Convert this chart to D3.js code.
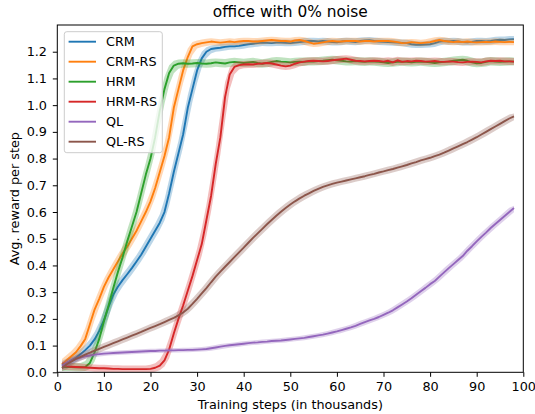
<!DOCTYPE html>
<html>
<head>
<meta charset="utf-8">
<script src="https://cdn.jsdelivr.net/npm/d3@7"></script>
<style>
  html, body { margin: 0; padding: 0; background: #fff; }
  svg { display: block; font-family: "DejaVu Sans", sans-serif; }
</style>
</head>
<body>
<svg id="chart" width="535" height="414"></svg>
<script>
// Training steps (thousands) at which each run was evaluated
const steps = d3.range(1, 99);

const seriesNames = ["CRM", "CRM-RS", "HRM", "HRM-RS", "QL", "QL-RS"];
const seriesColors = ["#1f77b4", "#ff7f0e", "#2ca02c", "#d62728", "#9467bd", "#8c564b"];
// half-width of the shaded spread around each mean curve
const seriesSpread = [0.012, 0.012, 0.015, 0.013, 0.008, 0.011];

const crm = [
  0.025,0.035,0.045,0.055,0.068,0.083,0.100,0.123,0.155,0.195,
  0.245,0.290,0.320,0.345,0.367,0.390,0.415,0.440,0.470,0.500,
  0.530,0.560,0.600,0.670,0.750,0.820,0.890,0.990,1.060,1.130,
  1.175,1.200,1.210,1.213,1.215,1.218,1.220,1.220,1.222,1.225,
  1.228,1.230,1.232,1.234,1.233,1.232,1.234,1.234,1.233,1.232,
  1.234,1.236,1.238,1.240,1.240,1.238,1.240,1.238,1.236,1.235,
  1.238,1.240,1.238,1.236,1.240,1.242,1.243,1.240,1.238,1.237,
  1.236,1.235,1.234,1.233,1.232,1.228,1.226,1.226,1.227,1.228,
  1.232,1.238,1.240,1.238,1.240,1.238,1.236,1.235,1.237,1.240,
  1.240,1.238,1.240,1.243,1.245,1.244,1.246,1.247
];
const crmRs = [
  0.030,0.045,0.060,0.075,0.098,0.125,0.180,0.235,0.275,0.320,
  0.355,0.385,0.415,0.445,0.470,0.500,0.530,0.565,0.600,0.640,
  0.690,0.750,0.810,0.880,0.990,1.060,1.130,1.180,1.220,1.228,
  1.232,1.235,1.238,1.236,1.234,1.236,1.238,1.236,1.238,1.240,
  1.240,1.238,1.238,1.240,1.242,1.244,1.242,1.240,1.240,1.238,
  1.242,1.244,1.240,1.235,1.230,1.232,1.235,1.238,1.240,1.238,
  1.238,1.240,1.240,1.240,1.238,1.240,1.240,1.238,1.240,1.240,
  1.240,1.238,1.236,1.232,1.233,1.236,1.234,1.232,1.234,1.236,
  1.240,1.244,1.240,1.238,1.236,1.238,1.236,1.238,1.236,1.235,
  1.236,1.237,1.236,1.238,1.237,1.236,1.237,1.236
];
const hrm = [
  0.020,0.020,0.020,0.019,0.019,0.020,0.035,0.075,0.125,0.190,
  0.250,0.315,0.375,0.430,0.490,0.545,0.600,0.670,0.740,0.800,
  0.880,0.980,1.060,1.120,1.148,1.155,1.157,1.155,1.156,1.158,
  1.156,1.155,1.157,1.160,1.158,1.156,1.160,1.162,1.160,1.158,
  1.160,1.162,1.158,1.155,1.158,1.162,1.165,1.163,1.162,1.160,
  1.162,1.163,1.162,1.164,1.163,1.165,1.166,1.168,1.170,1.168,
  1.166,1.164,1.163,1.165,1.163,1.162,1.164,1.163,1.162,1.160,
  1.158,1.160,1.162,1.163,1.162,1.160,1.162,1.163,1.162,1.160,
  1.158,1.160,1.162,1.163,1.166,1.168,1.170,1.166,1.160,1.157,
  1.158,1.162,1.165,1.163,1.162,1.163,1.164,1.163
];
const hrmRs = [
  0.025,0.022,0.021,0.020,0.019,0.018,0.017,0.016,0.015,0.015,
  0.014,0.013,0.013,0.012,0.012,0.012,0.012,0.012,0.012,0.013,
  0.017,0.025,0.045,0.085,0.145,0.200,0.250,0.305,0.360,0.420,
  0.480,0.570,0.660,0.780,0.880,1.030,1.115,1.143,1.150,1.152,
  1.153,1.152,1.155,1.156,1.158,1.156,1.152,1.148,1.145,1.148,
  1.155,1.160,1.163,1.165,1.166,1.165,1.164,1.165,1.168,1.170,
  1.172,1.174,1.170,1.166,1.165,1.164,1.165,1.166,1.165,1.163,
  1.166,1.160,1.168,1.162,1.165,1.164,1.166,1.165,1.163,1.164,
  1.165,1.163,1.162,1.164,1.163,1.161,1.160,1.162,1.163,1.162,
  1.160,1.164,1.166,1.165,1.166,1.164,1.164,1.163
];
const ql = [
  0.025,0.035,0.043,0.050,0.055,0.060,0.063,0.066,0.068,0.070,
  0.071,0.072,0.073,0.074,0.075,0.076,0.077,0.078,0.079,0.080,
  0.080,0.081,0.081,0.082,0.082,0.083,0.083,0.084,0.084,0.085,
  0.086,0.087,0.090,0.093,0.096,0.099,0.101,0.103,0.105,0.107,
  0.109,0.111,0.112,0.114,0.115,0.117,0.118,0.119,0.121,0.123,
  0.125,0.127,0.129,0.132,0.135,0.138,0.141,0.145,0.149,0.153,
  0.158,0.163,0.168,0.174,0.181,0.188,0.194,0.200,0.207,0.215,
  0.223,0.232,0.243,0.254,0.265,0.277,0.290,0.303,0.316,0.330,
  0.342,0.358,0.374,0.390,0.405,0.420,0.435,0.455,0.472,0.490,
  0.507,0.523,0.540,0.555,0.570,0.585,0.600,0.615
];
const qlRs = [
  0.015,0.030,0.040,0.050,0.058,0.066,0.074,0.081,0.088,0.095,
  0.102,0.109,0.116,0.123,0.130,0.137,0.144,0.151,0.159,0.166,
  0.173,0.180,0.188,0.196,0.204,0.213,0.224,0.238,0.256,0.275,
  0.295,0.315,0.337,0.358,0.377,0.395,0.413,0.431,0.449,0.467,
  0.485,0.503,0.520,0.537,0.554,0.570,0.586,0.601,0.615,0.628,
  0.640,0.651,0.661,0.670,0.679,0.687,0.694,0.700,0.705,0.710,
  0.714,0.718,0.722,0.726,0.730,0.734,0.739,0.743,0.748,0.752,
  0.757,0.761,0.766,0.771,0.776,0.782,0.787,0.793,0.798,0.803,
  0.809,0.815,0.822,0.830,0.838,0.846,0.854,0.862,0.871,0.880,
  0.890,0.900,0.910,0.920,0.930,0.940,0.950,0.958
];
const seriesValues = [crm, crmRs, hrm, hrmRs, ql, qlRs];

const xTicks = d3.range(0, 101, 10);
const yTicks = [0.0, 0.1, 0.2, 0.3, 0.4, 0.5, 0.6, 0.7, 0.8, 0.9, 1.0, 1.1, 1.2];

const titleText = "office with 0% noise";
const xLabelText = "Training steps (in thousands)";
const yLabelText = "Avg. reward per step";

// ---- layout ----
const svg = d3.select("#chart");
const plot = { left: 57.3, right: 523.3, top: 25, bottom: 372.3 };
const fontSize = 12.8;

const x = d3.scaleLinear().domain([0, 100]).range([plot.left, plot.right]);
const y = d3.scaleLinear().domain([0, 1.3]).range([plot.bottom, plot.top]);

svg.append("defs").append("clipPath").attr("id", "plotClip")
  .append("rect")
  .attr("x", plot.left).attr("y", plot.top)
  .attr("width", plot.right - plot.left).attr("height", plot.bottom - plot.top);

const series = seriesNames.map((name, k) => ({
  name, color: seriesColors[k], spread: seriesSpread[k],
  points: steps.map((s, i) => ({ s, v: seriesValues[k][i] }))
}));

// shaded band: envelope of the curve over half a step on either side, padded by the spread
function bandRows(d) {
  const p = d.points;
  return p.map((pt, i) => {
    const cands = [pt.v];
    if (i > 0) cands.push((p[i - 1].v + pt.v) / 2);
    if (i < p.length - 1) cands.push((p[i + 1].v + pt.v) / 2);
    return { s: pt.s, lo: d3.min(cands) - d.spread, hi: d3.max(cands) + d.spread };
  });
}

const area = d3.area().x(r => x(r.s)).y0(r => y(r.lo)).y1(r => y(r.hi));
const line = d3.line().x(p => x(p.s)).y(p => y(p.v));

const marks = svg.append("g").attr("clip-path", "url(#plotClip)");
series.forEach(d => {
  marks.append("path")
    .attr("d", area(bandRows(d)))
    .attr("fill", d.color).attr("fill-opacity", 0.3).attr("stroke", "none");
  marks.append("path")
    .attr("d", line(d.points))
    .attr("fill", "none").attr("stroke", d.color)
    .attr("stroke-width", 1.9).attr("stroke-linejoin", "round");
});

// ---- axes ----
const xAxis = svg.append("g")
  .attr("transform", `translate(0,${plot.bottom})`)
  .call(d3.axisBottom(x).tickValues(xTicks).tickFormat(d3.format("d"))
    .tickSize(4.5).tickPadding(5.2).tickSizeOuter(0));
const yAxis = svg.append("g")
  .attr("transform", `translate(${plot.left},0)`)
  .call(d3.axisLeft(y).tickValues(yTicks).tickFormat(d3.format(".1f"))
    .tickSize(4.5).tickPadding(5.8).tickSizeOuter(0));

[xAxis, yAxis].forEach(g => {
  g.select(".domain").remove();
  g.selectAll(".tick line").attr("stroke", "#000").attr("stroke-width", 1);
  g.selectAll(".tick text").attr("fill", "#000")
    .style("font-size", fontSize + "px").style("font-family", "DejaVu Sans");
});

// frame
svg.append("rect")
  .attr("x", plot.left).attr("y", plot.top)
  .attr("width", plot.right - plot.left).attr("height", plot.bottom - plot.top)
  .attr("fill", "none").attr("stroke", "#000").attr("stroke-width", 1);

// ---- text ----
svg.append("text")
  .attr("x", (plot.left + plot.right) / 2).attr("y", 16.8)
  .attr("text-anchor", "middle").style("font-size", "15.4px")
  .text(titleText);

svg.append("text")
  .attr("x", (plot.left + plot.right) / 2).attr("y", 408.5)
  .attr("text-anchor", "middle").style("font-size", fontSize + "px")
  .text(xLabelText);

svg.append("text")
  .attr("transform", `translate(18.5,${(plot.top + plot.bottom) / 2}) rotate(-90)`)
  .attr("text-anchor", "middle").style("font-size", fontSize + "px")
  .text(yLabelText);

// ---- legend ----
const legend = svg.append("g");
legend.append("rect")
  .attr("x", 64.3).attr("y", 31.7).attr("width", 98).attr("height", 121)
  .attr("rx", 2.5).attr("fill", "#fff").attr("fill-opacity", 0.8)
  .attr("stroke", "#cccccc").attr("stroke-width", 1);

series.forEach((d, k) => {
  const cy = 41.7 + k * 20;
  legend.append("line")
    .attr("x1", 68.6).attr("x2", 96).attr("y1", cy).attr("y2", cy)
    .attr("stroke", d.color).attr("stroke-width", 1.9);
  legend.append("text")
    .attr("x", 106).attr("y", cy).attr("dy", "0.36em")
    .style("font-size", fontSize + "px")
    .text(d.name);
});
</script>
</body>
</html>
